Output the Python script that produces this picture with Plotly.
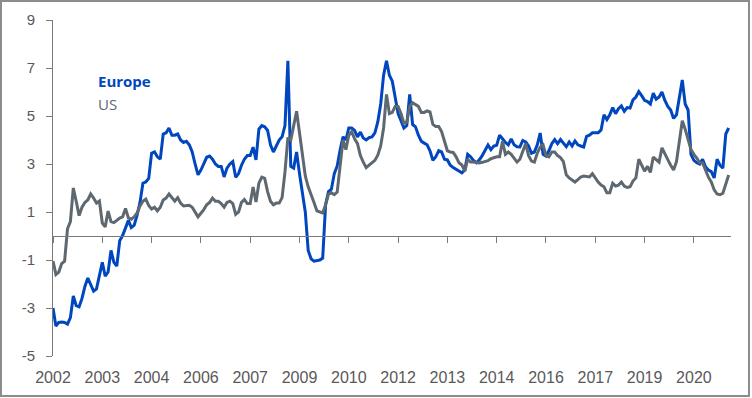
import plotly.graph_objects as go

# Monthly observations starting Feb 2002 (category axis, label every 17 months)
europe = [
    -3.0, -3.75, -3.6, -3.58, -3.6, -3.67, -3.4, -2.5, -2.9, -2.95,
    -2.6, -2.1, -1.75, -2.0, -2.3, -2.2, -1.6, -1.1, -1.67, -1.5,
    -0.6, -1.1, -1.25, -0.2, 0.02, 0.3, 0.65, 0.35, 0.45, 0.87,
    1.4, 2.2, 2.25, 2.4, 3.45, 3.5, 3.3, 3.2, 4.25, 4.3,
    4.5, 4.2, 4.2, 4.25, 4.0, 3.9, 3.95, 3.8, 3.5, 3.0,
    2.55, 2.75, 3.05, 3.28, 3.33, 3.2, 3.0, 2.9, 2.9, 2.46,
    2.83, 3.0, 3.1, 2.45, 2.6, 2.95, 3.2, 3.35, 3.35, 3.7,
    3.17, 4.45, 4.6, 4.55, 4.4, 3.8, 3.5, 3.75, 4.0, 4.13,
    4.6, 7.3, 2.9, 2.83, 3.5, 2.6, 1.8, 1.0, -0.6, -0.95,
    -1.05, -1.04, -1.0, -0.92, 1.3, 1.85, 1.95, 2.6, 2.92, 3.58,
    4.13, 4.0, 4.5, 4.5, 4.4, 4.13, 4.33, 4.08, 4.0, 4.1,
    4.13, 4.3, 4.75, 5.5, 6.7, 7.3, 6.7, 6.45, 5.7, 5.1,
    4.8, 4.5, 4.6, 5.9, 4.65, 4.55, 4.2, 3.95, 3.87, 3.8,
    3.55, 3.15, 3.3, 3.55, 3.5, 3.2, 3.17, 2.95, 2.85, 2.78,
    2.7, 2.63, 2.75, 3.4, 3.3, 3.15, 3.05, 3.17, 3.35, 3.55,
    3.79, 3.6, 3.75, 3.78, 4.2, 4.05, 3.9, 3.8, 4.05, 3.8,
    3.72, 3.71, 3.98, 3.92, 3.75, 3.45, 3.5, 3.8, 4.29, 3.4,
    3.33, 3.55, 3.85, 4.02, 3.85, 4.02, 3.85, 3.72, 3.92, 3.75,
    3.96, 3.8, 3.75, 3.71, 4.15, 4.2, 4.3, 4.3, 4.3, 4.42,
    5.05, 4.85, 5.05, 5.35, 5.1, 5.3, 5.42, 5.2, 5.35, 5.33,
    5.67, 5.79, 6.02, 5.85, 5.65, 5.6, 5.5, 5.95, 5.7, 5.79,
    6.0, 5.65, 5.4, 5.25, 4.9, 5.05, 5.7, 6.5, 5.5, 5.25,
    3.4, 3.15, 3.05, 3.0, 3.2, 2.88, 2.75, 2.68, 2.42, 3.2,
    2.95, 2.83, 4.25, 4.5,
]

us = [
    -1.04, -1.6, -1.5, -1.15, -1.05, 0.3, 0.6, 2.0, 1.45, 0.85,
    1.2, 1.4, 1.5, 1.75, 1.58, 1.37, 1.46, 0.54, 0.38, 1.04,
    0.6, 0.56, 0.65, 0.75, 0.8, 1.15, 0.75, 0.7, 0.8, 0.96,
    1.25, 1.45, 1.54, 1.27, 1.12, 1.2, 1.05, 1.2, 1.5, 1.58,
    1.75, 1.6, 1.45, 1.6, 1.37, 1.25, 1.25, 1.28, 1.2, 1.0,
    0.8, 0.95, 1.1, 1.3, 1.4, 1.58, 1.45, 1.45, 1.35, 1.2,
    1.4, 1.45, 1.35, 0.9, 1.0, 1.4, 1.52, 1.35, 1.35, 2.04,
    1.42, 2.2, 2.45, 2.4, 1.85, 1.45, 1.3, 1.37, 1.37, 1.6,
    2.67, 4.1, 4.0, 4.6, 5.2, 4.3, 3.3, 2.5, 2.05, 1.75,
    1.4, 1.05, 1.0, 0.96, 1.3, 1.75, 1.8, 1.72, 1.83, 2.9,
    4.0, 3.6, 4.2, 4.35, 4.05, 3.85, 3.35, 3.08, 2.85, 2.95,
    3.05, 3.15, 3.37, 3.75, 4.5, 5.9, 5.1, 5.15, 5.4, 5.4,
    5.1, 4.7, 4.75, 5.4, 5.55, 5.48, 5.4, 5.15, 5.15, 5.21,
    5.17, 4.65, 4.56, 4.56, 4.35, 3.95, 3.55, 3.5, 3.48, 3.3,
    3.05, 2.96, 2.7, 3.2, 3.08, 3.08, 3.07, 3.04, 3.07, 3.1,
    3.14, 3.22, 3.27, 3.3, 3.3, 3.95, 3.4, 3.5, 3.4, 3.25,
    3.08, 3.2, 3.55, 3.85, 3.35, 3.12, 3.08, 3.45, 3.7, 3.8,
    3.35, 3.3, 3.5, 3.5, 3.35, 3.27, 3.1, 2.55, 2.42, 2.35,
    2.25, 2.35, 2.46, 2.5, 2.48, 2.46, 2.6, 2.4, 2.25, 2.12,
    2.05, 1.8, 1.8, 2.2, 2.08, 2.12, 2.25, 2.08, 2.02, 2.05,
    2.29, 2.42, 3.2, 2.95, 2.7, 2.9, 2.65, 3.29, 3.17, 3.08,
    3.67, 3.4, 3.18, 2.95, 2.75, 3.1, 3.95, 4.8, 4.45, 4.0,
    3.6, 3.4, 3.25, 3.05, 3.04, 2.75, 2.45, 2.25, 1.92, 1.75,
    1.72, 1.78, 2.2, 2.54,
]

tick_labels = ["2002", "2003", "2004", "2006", "2007", "2009", "2010",
               "2012", "2013", "2014", "2016", "2017", "2019", "2020"]
tick_step = 17
y_ticks = [-5, -3, -1, 1, 3, 5, 7, 9]
y_labels = ["-5", "-3", "-1", "1", "3", "5", "7", "9"]

BLUE = "#0047BF"
GREY = "#5E6870"
TXT = "#595959"
AXIS = "#7A7A7A"

n = len(europe)
x = list(range(n))
tickvals = [i * tick_step for i in range(len(tick_labels))]
xr = [0, 233.8]

fig = go.Figure()
fig.add_trace(go.Scatter(x=x, y=europe, mode="lines", name="Europe",
                         line=dict(color=BLUE, width=3)))
fig.add_trace(go.Scatter(x=x, y=us, mode="lines", name="US",
                         line=dict(color=GREY, width=3)))

W, H = 752, 398
ml, mr, mt, mb = 53, 21, 20, 42
pw, ph = W - ml - mr, H - mt - mb

def px_x(p):
    return (p - ml) / pw

def px_y(p):
    return (H - mb - p) / ph

fig.update_layout(
    width=W, height=H,
    margin=dict(l=ml, r=mr, t=mt, b=mb),
    paper_bgcolor="white", plot_bgcolor="white",
    showlegend=False,
    font=dict(family="Liberation Sans, Arial, sans-serif", color=TXT),
    xaxis=dict(range=xr, tickmode="array", tickvals=tickvals, ticktext=tick_labels,
               showgrid=False, zeroline=False, showline=False, automargin=False,
               ticks="outside", ticklen=7, tickcolor="rgba(0,0,0,0)",
               tickfont=dict(size=16, color=TXT)),
    xaxis2=dict(range=xr, overlaying="x", anchor="free", automargin=False,
                position=(0 - (-5)) / 14.0,
                tickmode="array", tickvals=tickvals, showticklabels=False,
                showgrid=False, zeroline=False, showline=True, linecolor=AXIS,
                linewidth=1, ticks="outside", ticklen=6, tickcolor=AXIS),
    yaxis=dict(range=[-5, 9], tickmode="array", tickvals=y_ticks, ticktext=y_labels,
               showgrid=False, zeroline=False, showline=True, linecolor=AXIS,
               linewidth=1, ticks="outside", ticklen=6, tickcolor=AXIS,
               ticklabelstandoff=8, automargin=False,
               tickfont=dict(size=15, color=TXT)),
    shapes=[dict(type="rect", xref="paper", yref="paper",
                 x0=px_x(1), x1=px_x(749), y0=px_y(396), y1=px_y(1),
                 line=dict(color="#8C8C8C", width=2), layer="above")],
    annotations=[
        dict(text="<b>Europe</b>", xref="paper", yref="paper",
             x=px_x(96), y=px_y(81), xanchor="left", yanchor="middle",
             showarrow=False, font=dict(family="Open Sans, sans-serif", size=15, color=BLUE)),
        dict(text="US", xref="paper", yref="paper",
             x=px_x(96), y=px_y(103.5), xanchor="left", yanchor="middle",
             showarrow=False, font=dict(family="Open Sans, sans-serif", size=15, color=GREY)),
    ],
)
# dummy trace to activate xaxis2
fig.add_trace(go.Scatter(x=[0], y=[0], xaxis="x2", mode="markers",
                         marker=dict(opacity=0), hoverinfo="skip", showlegend=False))

fig.write_html("out.html", config={"displayModeBar": False},
               post_script="document.body.style.margin='0px';document.body.style.overflow='hidden';")
